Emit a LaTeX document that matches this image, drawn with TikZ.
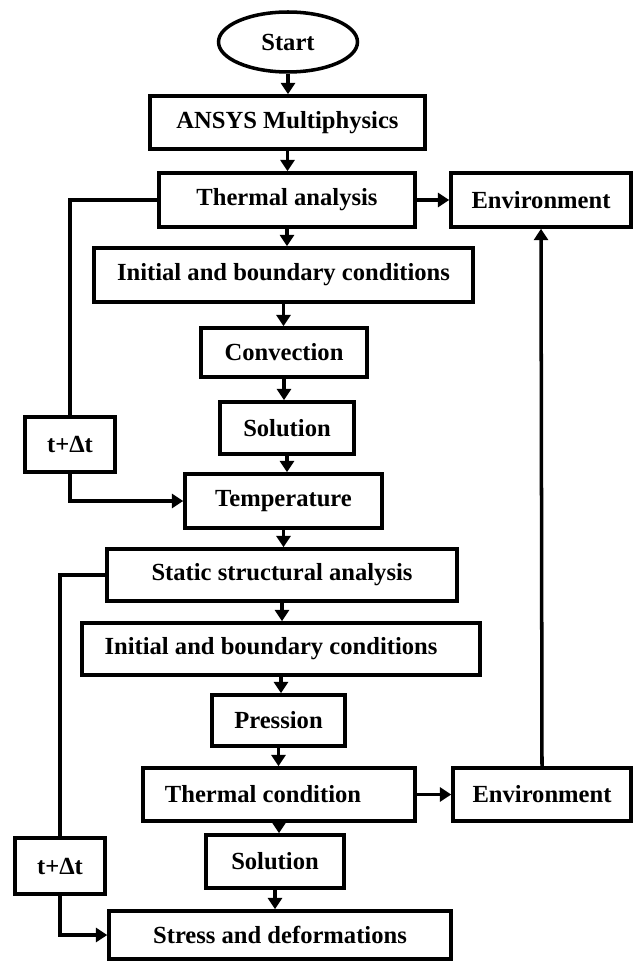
\documentclass[tikz,border=0pt]{standalone}
\usepackage{fontspec}
\setmainfont{Liberation Serif}
\usetikzlibrary{arrows.meta,shapes.geometric}
\tikzset{
  box/.style={draw, line width=2pt, inner sep=0pt, font=\fontsize{14}{16}\selectfont\bfseries},
  flow/.style={line width=2pt, -{Triangle[length=6.5pt,width=8pt]}},
  link/.style={line width=2pt}
}
\begin{document}
\begin{tikzpicture}[x=0.02cm,y=-0.02cm]
\useasboundingbox (0,0) rectangle (633,962);

\node[box,ellipse,minimum width=2.78cm,minimum height=1.2cm] (start) at (288,42) {Start};
\node[box,minimum width=5.5cm,minimum height=1.06cm] (ansys) at (287.5,122.5) {ANSYS Multiphysics};
\node[box,minimum width=5.12cm,minimum height=1.08cm] (thermal) at (287,200) {Thermal analysis};
\node[box,minimum width=3.6cm,minimum height=1.08cm] (envtop) at (541,200) {Environment};
\node[box,minimum width=7.58cm,minimum height=1.08cm] (initA) at (283.5,275) {Initial and boundary conditions};
\node[box,minimum width=3.32cm,minimum height=0.98cm] (conv) at (284,352.5) {Convection};
\node[box,minimum width=2.68cm,minimum height=1.04cm] (solA) at (287,428) {Solution};
\node[box,minimum width=1.8cm,minimum height=1.1cm] (dtA) at (70,444.5) {t+Δt};
\node[box,minimum width=3.94cm,minimum height=1.08cm] (temp) at (283.5,501) {Temperature};
\node[box,minimum width=7cm,minimum height=1.04cm] (static) at (282,575) {Static structural analysis};
\node[box,minimum width=7.96cm,minimum height=1.04cm] (initB) at (281,649) {Initial and boundary conditions\kern0.4cm};
\node[box,minimum width=2.66cm,minimum height=1.02cm] (pres) at (278.5,720.5) {Pression};
\node[box,minimum width=5.44cm,minimum height=1.06cm] (tcond) at (279,794.5) {Thermal condition\kern0.64cm};
\node[box,minimum width=3.56cm,minimum height=1.06cm] (envbot) at (542,794.5) {Environment};
\node[box,minimum width=2.76cm,minimum height=1.06cm] (solB) at (275,861.5) {Solution};
\node[box,minimum width=1.8cm,minimum height=1.12cm] (dtB) at (60,866) {t+Δt};
\node[box,minimum width=6.84cm,minimum height=0.96cm] (stress) at (280,935) {Stress and deformations};

% main chain
\draw[flow] (start.south) -- (start.south |- ansys.north);
\draw[flow] (ansys.south) -- (ansys.south |- thermal.north);
\draw[flow] (thermal.south) -- (thermal.south |- initA.north);
\draw[flow] (initA.south) -- (initA.south |- conv.north);
\draw[flow] (conv.south) -- (conv.south |- solA.north);
\draw[flow] (solA.south) -- (solA.south |- temp.north);
\draw[flow] (temp.south) -- (temp.south |- static.north);
\draw[flow] (static.south) -- (static.south |- initB.north);
\draw[flow] (initB.south) -- (initB.south |- pres.north);
\draw[flow] (pres.south) -- (pres.south |- tcond.north);
\draw[flow] (tcond.south) -- (tcond.south |- solB.north);
\draw[flow] (solB.south) -- (solB.south |- stress.north);

% environment
\draw[flow] (thermal.east) -- (envtop.west);
\draw[flow] (tcond.east) -- (envbot.west);
\draw[flow] (envbot.north) -- (envtop.south);

% time loops
\draw[link] (thermal.west) -| (dtA.north);
\draw[flow] (dtA.south) |- (temp.west);
\draw[link] (static.west) -| (dtB.north);
\draw[flow] (dtB.south) |- (stress.west);
\end{tikzpicture}
\end{document}
